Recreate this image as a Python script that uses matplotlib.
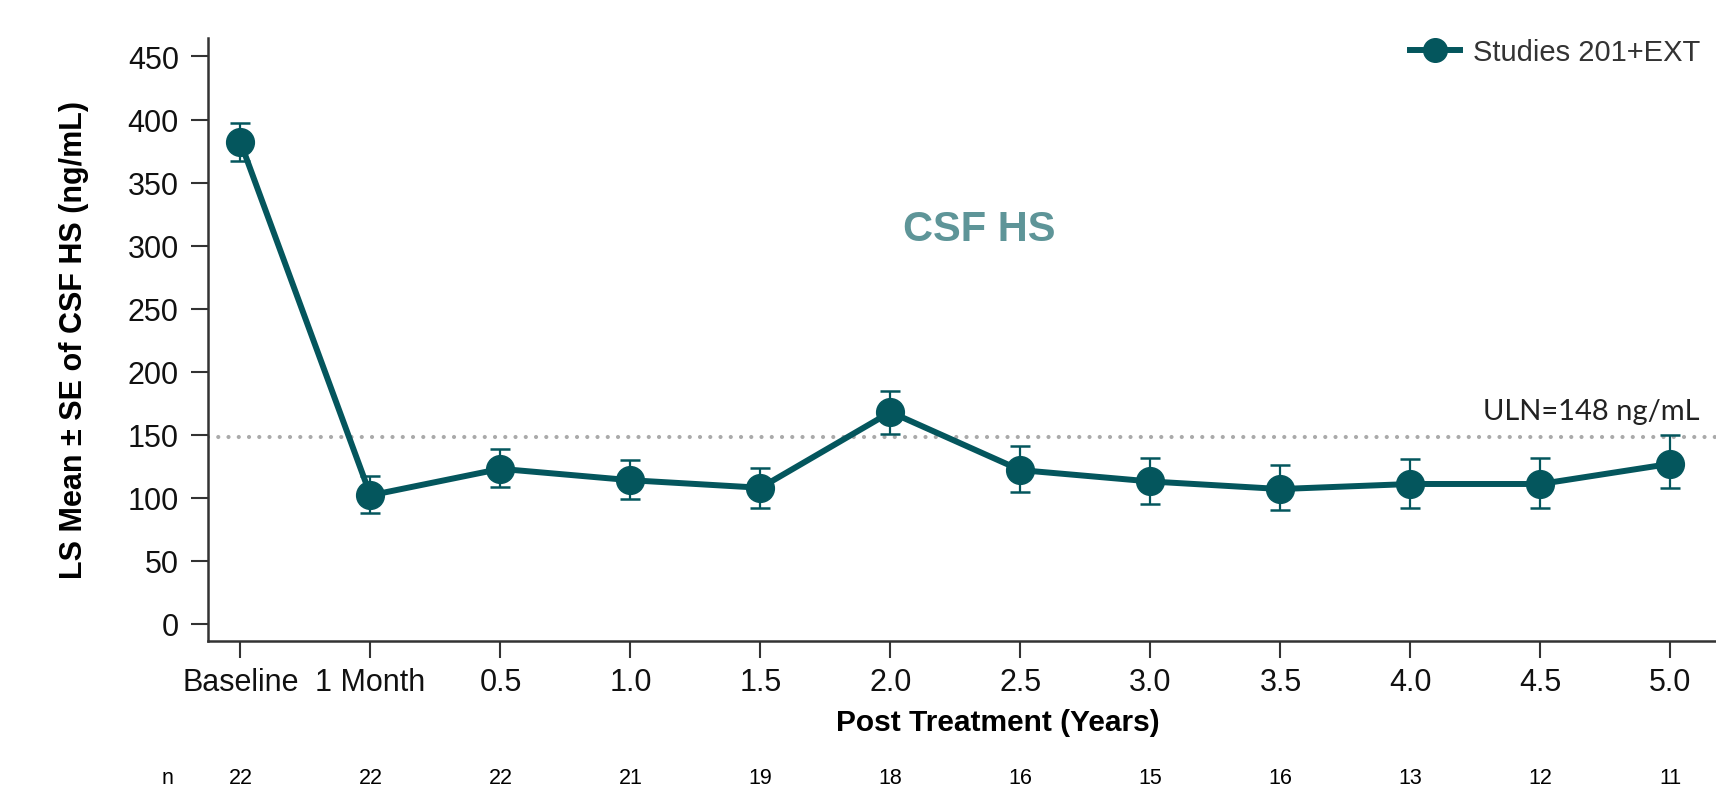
import matplotlib
matplotlib.use("Agg")
import matplotlib.pyplot as plt
import matplotlib.transforms as mtransforms

# data
labels = ["Baseline", "1 Month", "0.5", "1.0", "1.5", "2.0", "2.5", "3.0", "3.5", "4.0", "4.5", "5.0"]
ls_mean = [382, 102, 123, 114, 108, 168, 122, 113, 107, 111, 111, 127]
se_upper = [397, 117, 139, 130, 124, 185, 141, 132, 126, 131, 132, 150]
se_lower = [367, 88, 109, 99, 92, 151, 105, 95, 90, 92, 92, 108]
n_counts = [22, 22, 22, 21, 19, 18, 16, 15, 16, 13, 12, 11]
yticks = [0, 50, 100, 150, 200, 250, 300, 350, 400, 450]
uln = 148

teal = "#04565D"
plt.rcParams["font.family"] = ["Liberation Sans", "DejaVu Sans"]

fig = plt.figure(figsize=(17.16, 8.03), dpi=100)
ax = fig.add_axes([0.1212, 0.2005, 0.8788, 0.7515])

x = list(range(len(labels)))
yerr = [[m - lo for m, lo in zip(ls_mean, se_lower)],
        [hi - m for m, hi in zip(ls_mean, se_upper)]]

ax.axhline(uln, color="#AAAAAA", lw=3.0, linestyle=(0, (0.01, 2.45)),
           dash_capstyle="round", zorder=1)
ax.errorbar(x, ls_mean, yerr=yerr, fmt="none", ecolor=teal, elinewidth=1.6,
            capsize=7, capthick=1.8, zorder=2)
ax.plot(x, ls_mean, color=teal, lw=4.3, marker="o", markersize=20,
        markeredgecolor=teal, zorder=3, label="Studies 201+EXT")

ax.set_xlim(-0.25, 11.35)
ax.set_ylim(-13.5, 465)
ax.set_xticks(x)
ax.set_xticklabels(labels)
ax.set_yticks(yticks)
ax.tick_params(axis="both", labelsize=22, length=12, width=1.5, color="#333333",
               labelcolor="#111111")
ax.tick_params(axis="x", pad=7)
ax.tick_params(axis="y", pad=9)

for side in ["top", "right"]:
    ax.spines[side].set_visible(False)
for side in ["left", "bottom"]:
    ax.spines[side].set_color("#333333")
    ax.spines[side].set_linewidth(1.8)

ax.set_ylabel("LS Mean \u00b1 SE of CSF HS (ng/mL)", fontsize=22, fontweight="bold")
ax.yaxis.set_label_coords(-0.079, 0.5)
ax.set_xlabel("Post Treatment (Years)", fontsize=21.5, fontweight="bold")
ax.xaxis.set_label_coords(0.524, -0.111)

ax.text(5.68, 313, "CSF HS", fontsize=30, fontweight="bold", color="#5E9598",
        ha="center", va="center")
ax.text(11.22, 169, "ULN=148 ng/mL", fontsize=21, family=["Lato", "DejaVu Sans"],
        color="#222222", ha="right", va="center")

# n at risk row under the axis
trans = mtransforms.blended_transform_factory(ax.transData, ax.transAxes)
ax.text(-0.56, -0.227, "n", transform=trans, fontsize=15.5, ha="center", va="center")
for xi, nv in zip(x, n_counts):
    ax.text(xi, -0.227, str(nv), transform=trans, fontsize=15.5, ha="center", va="center")

leg = ax.legend(loc="upper right", bbox_to_anchor=(1.006, 0.984), bbox_transform=fig.transFigure,
                frameon=False, fontsize=21, handlelength=1.7, handletextpad=0.45,
                markerscale=0.85)
for t in leg.get_texts():
    t.set_color("#333333")

fig.savefig("out.png", dpi=100)
